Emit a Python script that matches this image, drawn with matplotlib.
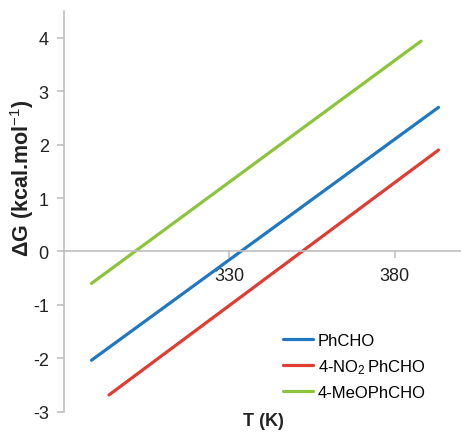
import matplotlib
matplotlib.use("Agg")
import matplotlib.pyplot as plt

plt.rcParams["font.family"] = ["Liberation Sans", "DejaVu Sans"]
plt.rcParams["mathtext.fontset"] = "custom"
plt.rcParams["mathtext.rm"] = "Liberation Sans"
plt.rcParams["mathtext.it"] = "Liberation Sans:italic"
plt.rcParams["mathtext.bf"] = "Liberation Sans:bold"
plt.rcParams["axes.unicode_minus"] = False

# temperatures (K) and dG (kcal/mol) at the ends of each line
t_ph = [288.3, 393.2]
dg_ph = [-2.04, 2.70]
t_no2 = [293.6, 393.2]
dg_no2 = [-2.69, 1.90]
t_meo = [288.3, 387.9]
dg_meo = [-0.60, 3.94]

labels = ["PhCHO", "4-NO$_2\\,$PhCHO", "4-MeOPhCHO"]
colors = ["#1f78c1", "#e03c31", "#8cc43c"]
axis_grey = "#bfbfbf"
fs = 13

fig = plt.figure(figsize=(4.61, 4.35), dpi=100)
ax = fig.add_axes([64 / 461, 1 - 412.5 / 435, 1 - 64 / 461, (412.5 - 12.3) / 435])

for t, dg, lab, c in zip([t_ph, t_no2, t_meo], [dg_ph, dg_no2, dg_meo], labels, colors):
	ax.plot(t, dg, color=c, lw=2.3, label=lab, solid_capstyle="round")

ax.set_xlim(280, 400)
ax.set_ylim(-3, 4.5)
ax.set_xticks([330, 380])
ax.set_yticks(range(-3, 5))

for s in ["top", "right"]:
	ax.spines[s].set_visible(False)
ax.spines["bottom"].set_position(("data", 0))
ax.spines["left"].set_color(axis_grey)
ax.spines["bottom"].set_color(axis_grey)
ax.spines["left"].set_linewidth(1.2)
ax.spines["bottom"].set_linewidth(1.2)
ax.tick_params(axis="both", colors=axis_grey, labelcolor="#222222", labelsize=fs,
               length=5, width=1.2, direction="out")
ax.tick_params(axis="y", pad=6)
ax.tick_params(axis="x", pad=6)

fig.text(22 / 461, 1 - 178 / 435, "ΔG (kcal.mol$^{-1}$)", rotation=90, ha="center", va="center",
         fontsize=15.5, fontweight="bold", color="#222222")
fig.text(263 / 461, 1 - 422 / 435, "T (K)", ha="center", va="center",
         fontsize=fs, fontweight="bold", color="#222222")

ax.legend(loc="upper left", bbox_to_anchor=(283 / 461, 1 - 334 / 435), bbox_transform=fig.transFigure,
          frameon=False, fontsize=12, handlelength=1.8, handletextpad=0.3, labelspacing=0.55,
          borderaxespad=0, borderpad=0)

plt.savefig("out.png", dpi=100)
